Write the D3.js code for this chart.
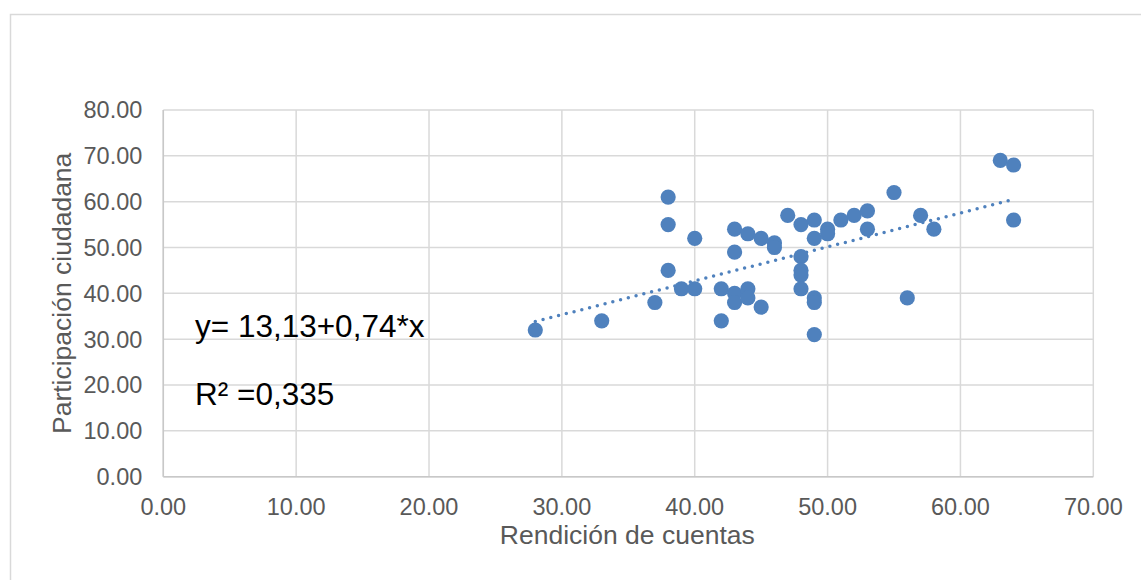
<!DOCTYPE html>
<html>

<head>
    <meta charset="utf-8">
    <!-- Load d3.js -->
    <script src="https://d3js.org/d3.v7.min.js"></script>
    <style>
        body {
            margin: 0;
            background-color: white;
            font-family: "Liberation Sans", Arial, sans-serif;
        }

        .grid line {
            stroke: #d9d9d9;
            stroke-width: 1.5;
        }

        .tick-label {
            fill: #595959;
            font-size: 23.5px;
        }

        .axis-title {
            fill: #595959;
            font-size: 26.5px;
        }

        .eq {
            fill: #000;
            font-size: 31.5px;
        }
    </style>
</head>

<body>
    <div id="chart"></div>
    <script>
        // rendicion de cuentas (x) / participacion ciudadana (y)
        var rendicion = [28, 33, 37, 38, 38, 38, 39, 40, 40, 42, 42, 43, 43, 43, 43, 44, 44, 44, 45, 45, 46, 46,
            47, 48, 48, 48, 48, 48, 49, 49, 49, 49, 49, 50, 50, 51, 52, 53, 53, 55, 56, 57, 58, 63, 64, 64];
        var participacion = [32, 34, 38, 61, 55, 45, 41, 52, 41, 41, 34, 54, 49, 40, 38, 53, 41, 39, 52, 37, 51, 50,
            57, 55, 48, 45, 44, 41, 56, 52, 39, 38, 31, 54, 53, 56, 57, 58, 54, 62, 39, 57, 54, 69, 68, 56];

        var xTicks = [0, 10, 20, 30, 40, 50, 60, 70];
        var yTicks = [0, 10, 20, 30, 40, 50, 60, 70, 80];

        // trend line from the equation shown
        var intercept = 13.13, slope = 0.74;
        var trendRange = [28, 64];

        var eqLabel = "y= 13,13+0,74*x";
        var r2Label = "R² =0,335";

        var data = rendicion.map(function (d, i) { return { x: d, y: participacion[i] }; });

        var W = 1141, H = 580;
        var margin = { top: 110, right: 47.7, bottom: 103.3, left: 163.3 },
            width = W - margin.left - margin.right,
            height = H - margin.top - margin.bottom;

        var x = d3.scaleLinear().domain([0, 70]).range([0, width]);
        var y = d3.scaleLinear().domain([0, 80]).range([height, 0]);

        var svg = d3.select("#chart").append("svg")
            .attr("width", W)
            .attr("height", H);

        // outer chart frame
        svg.append("rect")
            .attr("x", 10.5).attr("y", 14.5)
            .attr("width", W).attr("height", H)
            .attr("fill", "white")
            .attr("stroke", "#d9d9d9")
            .attr("stroke-width", 1.5);

        var g = svg.append("g")
            .attr("transform", "translate(" + margin.left + "," + margin.top + ")");

        // gridlines
        var grid = g.append("g").attr("class", "grid");
        grid.selectAll(".h").data(yTicks).enter().append("line")
            .attr("x1", 0).attr("x2", width)
            .attr("y1", function (d) { return y(d); })
            .attr("y2", function (d) { return y(d); });
        grid.selectAll(".v").data(xTicks).enter().append("line")
            .attr("y1", 0).attr("y2", height)
            .attr("x1", function (d) { return x(d); })
            .attr("x2", function (d) { return x(d); });

        // axis lines a little darker
        g.append("line").attr("x1", 0).attr("x2", width).attr("y1", height).attr("y2", height)
            .attr("stroke", "#c8c8c8").attr("stroke-width", 1.5);
        g.append("line").attr("x1", 0).attr("x2", 0).attr("y1", 0).attr("y2", height)
            .attr("stroke", "#c8c8c8").attr("stroke-width", 1.5);

        // tick labels
        g.selectAll(".yl").data(yTicks).enter().append("text")
            .attr("class", "tick-label")
            .attr("x", -21)
            .attr("y", function (d) { return y(d); })
            .attr("dy", "0.36em")
            .attr("text-anchor", "end")
            .text(function (d) { return d3.format(".2f")(d); });

        g.selectAll(".xl").data(xTicks).enter().append("text")
            .attr("class", "tick-label")
            .attr("x", function (d) { return x(d); })
            .attr("y", height + 38)
            .attr("text-anchor", "middle")
            .text(function (d) { return d3.format(".2f")(d); });

        // axis titles
        g.append("text")
            .attr("class", "axis-title")
            .attr("x", width / 2 - 1)
            .attr("y", height + 67)
            .attr("text-anchor", "middle")
            .text("Rendición de cuentas");

        g.append("text")
            .attr("class", "axis-title")
            .attr("transform", "translate(" + (-92) + "," + (height / 2) + ") rotate(-90)")
            .attr("text-anchor", "middle")
            .text("Participación ciudadana");

        // trend line (dotted)
        g.append("line")
            .attr("x1", x(trendRange[0]))
            .attr("y1", y(intercept + slope * trendRange[0]))
            .attr("x2", x(trendRange[1]))
            .attr("y2", y(intercept + slope * trendRange[1]))
            .attr("stroke", "#4f81bd")
            .attr("stroke-width", 3.5)
            .attr("stroke-linecap", "round")
            .attr("stroke-dasharray", "0,8");

        // points
        g.selectAll(".dot")
            .data(data)
            .enter()
            .append("circle")
            .attr("cx", function (d) { return x(d.x); })
            .attr("cy", function (d) { return y(d.y); })
            .attr("r", 7.6)
            .attr("fill", "#4f81bd");

        // equation labels
        svg.append("text").attr("class", "eq")
            .attr("x", 195).attr("y", 337)
            .text(eqLabel);
        svg.append("text").attr("class", "eq")
            .attr("x", 195).attr("y", 405)
            .text(r2Label);
    </script>
</body>

</html>
